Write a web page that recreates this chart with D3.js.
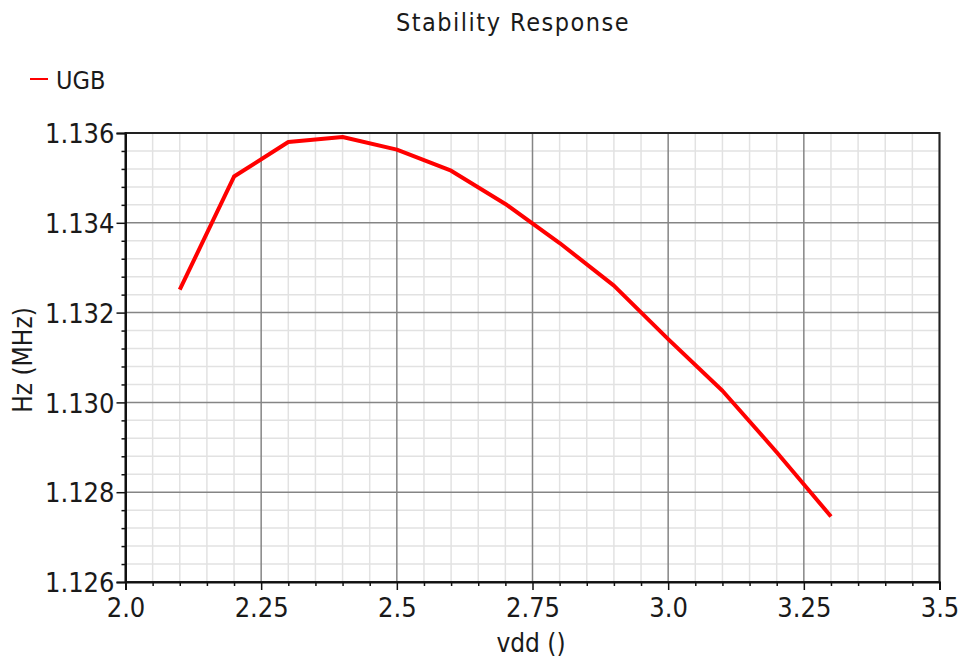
<!DOCTYPE html>
<html>
<head>
<meta charset="utf-8">
<script src="https://cdn.jsdelivr.net/npm/d3@7"></script>
<style>
  html, body { margin: 0; padding: 0; background: #fff; }
  svg { display: block; }
  text { font-family: "DejaVu Sans Condensed", "DejaVu Sans", sans-serif; fill: #1a1a1a; }
</style>
</head>
<body>
<svg id="chart" width="964" height="658"></svg>
<script>
// Unity-gain bandwidth versus supply voltage
const vdd = [2.1, 2.2, 2.3, 2.4, 2.5, 2.6, 2.7, 2.8, 2.9, 3.0, 3.1, 3.2, 3.3];
const ugbMHz = [1.13251, 1.13503, 1.13580, 1.13591, 1.13563, 1.13516, 1.13442,
                1.13355, 1.13260, 1.13141, 1.13026, 1.12889, 1.12746];
const xTicks = [2.0, 2.25, 2.5, 2.75, 3.0, 3.25, 3.5];
const xTickLabels = ["2.0", "2.25", "2.5", "2.75", "3.0", "3.25", "3.5"];
const yTicks = [1.126, 1.128, 1.130, 1.132, 1.134, 1.136];
const yTickLabels = ["1.126", "1.128", "1.130", "1.132", "1.134", "1.136"];

const svg = d3.select("#chart");
const plotL = 125.5, plotR = 939.5, plotT = 133, plotB = 582;

const x = d3.scaleLinear().domain([2.0, 3.5]).range([plotL, plotR]);
const y = d3.scaleLinear().domain([1.126, 1.136]).range([plotB, plotT]);

// minor positions: 0.05 on x, 0.0004 on y
const xMinor = d3.range(0, 31).map(i => 2.0 + i * 0.05)
  .filter(v => !xTicks.some(t => Math.abs(t - v) < 1e-9));
const yMinor = d3.range(0, 26).map(i => 1.126 + i * 0.0004)
  .filter(v => !yTicks.some(t => Math.abs(t - v) < 1e-9));

const grid = svg.append("g");
grid.selectAll("line.xmin").data(xMinor).join("line")
  .attr("x1", d => x(d)).attr("x2", d => x(d)).attr("y1", plotT).attr("y2", plotB)
  .attr("stroke", "#e2e2e2").attr("stroke-width", 1.5);
grid.selectAll("line.ymin").data(yMinor).join("line")
  .attr("y1", d => y(d)).attr("y2", d => y(d)).attr("x1", plotL).attr("x2", plotR)
  .attr("stroke", "#e2e2e2").attr("stroke-width", 1.5);
grid.selectAll("line.xmaj").data(xTicks).join("line")
  .attr("x1", d => x(d)).attr("x2", d => x(d)).attr("y1", plotT).attr("y2", plotB)
  .attr("stroke", "#858585").attr("stroke-width", 1.5);
grid.selectAll("line.ymaj").data(yTicks).join("line")
  .attr("y1", d => y(d)).attr("y2", d => y(d)).attr("x1", plotL).attr("x2", plotR)
  .attr("stroke", "#858585").attr("stroke-width", 1.5);

// frame
svg.append("rect")
  .attr("x", plotL).attr("y", plotT).attr("width", plotR - plotL).attr("height", plotB - plotT)
  .attr("fill", "none").attr("stroke", "#222").attr("stroke-width", 2);

// axes
const fmtX = d => xTickLabels[xTicks.indexOf(d)];
const fmtY = d => yTickLabels[yTicks.indexOf(d)];

const xAxis = svg.append("g").attr("transform", `translate(0,${plotB})`)
  .call(d3.axisBottom(x).tickValues(xTicks).tickFormat(fmtX).tickSize(8).tickPadding(8));
svg.append("g").attr("transform", `translate(0,${plotB})`)
  .call(d3.axisBottom(x).tickValues(xMinor).tickFormat("").tickSize(4))
  .call(g => g.select(".domain").remove());

const yAxis = svg.append("g").attr("transform", `translate(${plotL},0)`)
  .call(d3.axisLeft(y).tickValues(yTicks).tickFormat(fmtY).tickSize(9).tickPadding(2));
svg.append("g").attr("transform", `translate(${plotL},0)`)
  .call(d3.axisLeft(y).tickValues(yMinor).tickFormat("").tickSize(4))
  .call(g => g.select(".domain").remove());

svg.selectAll(".tick line").attr("stroke", "#111").attr("stroke-width", 1.5);
svg.selectAll(".domain").attr("stroke", "#111").attr("stroke-width", 2);
xAxis.selectAll("text").style("font-size", "27px").attr("fill", "#1a1a1a");
yAxis.selectAll("text").style("font-size", "27px").attr("fill", "#1a1a1a").attr("dy", "0.36em");

// series
svg.append("path")
  .datum(vdd.map((v, i) => [v, ugbMHz[i]]))
  .attr("fill", "none").attr("stroke", "#ff0000").attr("stroke-width", 4)
  .attr("stroke-linejoin", "round")
  .attr("d", d3.line().x(d => x(d[0])).y(d => y(d[1])));

// title
svg.append("text").attr("x", 513).attr("y", 31).attr("text-anchor", "middle")
  .style("font-size", "25px").style("letter-spacing", "1.5px").text("Stability Response");

// legend
svg.append("line").attr("x1", 30).attr("x2", 48).attr("y1", 79).attr("y2", 79)
  .attr("stroke", "#ff0000").attr("stroke-width", 2);
svg.append("text").attr("x", 56).attr("y", 89).style("font-size", "25px").text("UGB");

// axis titles
svg.append("text").attr("x", 531).attr("y", 652).attr("text-anchor", "middle")
  .style("font-size", "26px").text("vdd ()");
svg.append("text").attr("transform", "translate(32,360) rotate(-90)")
  .attr("text-anchor", "middle").style("font-size", "26px").text("Hz (MHz)");
</script>
</body>
</html>
